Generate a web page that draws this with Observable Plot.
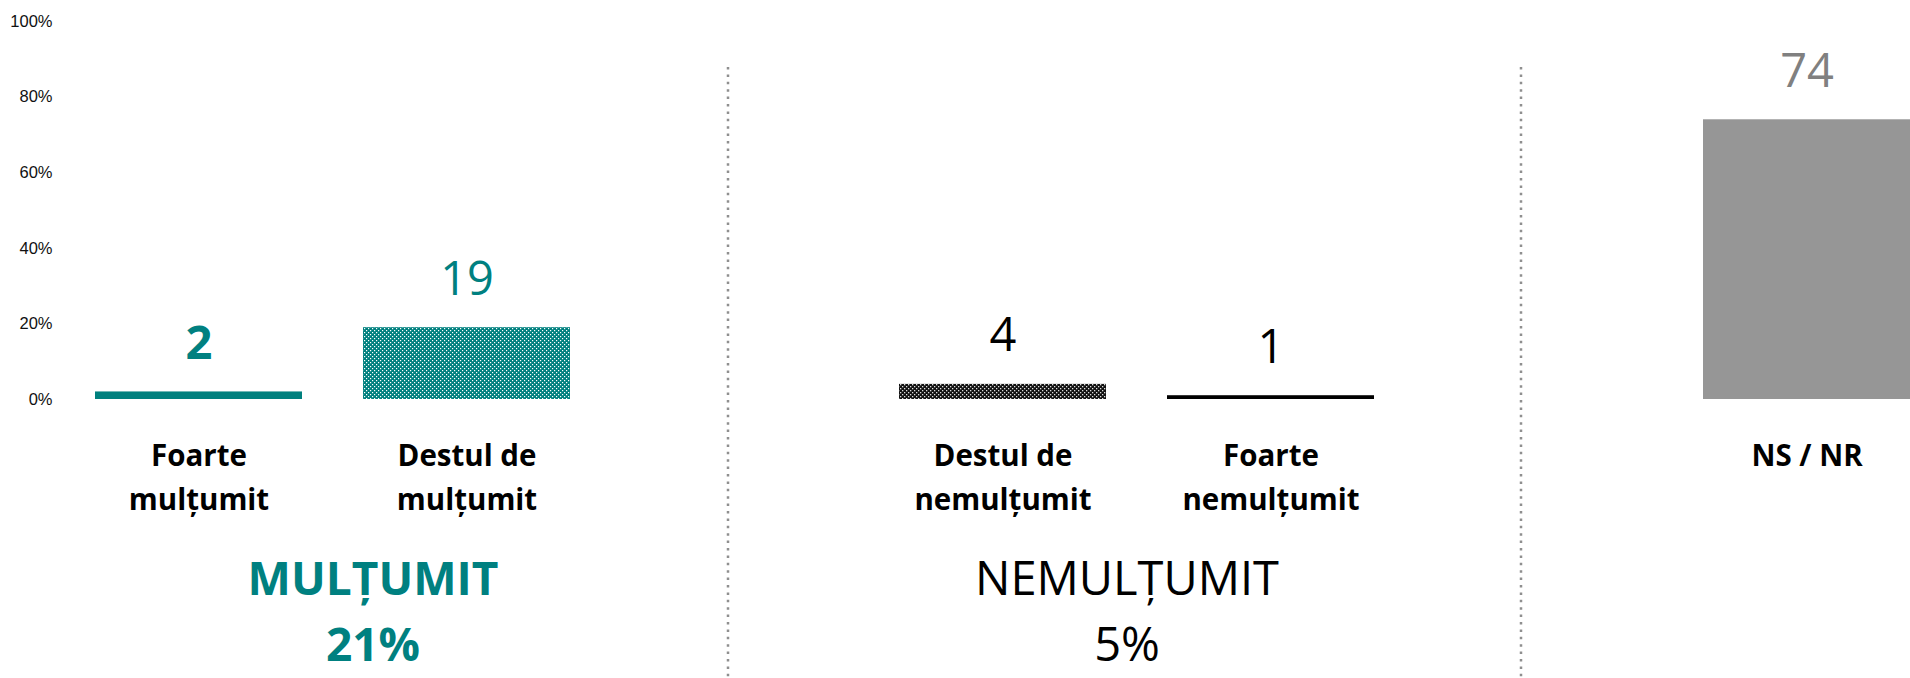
<!DOCTYPE html>
<html>
<head>
<meta charset="utf-8">
<script src="https://cdn.jsdelivr.net/npm/d3@7"></script>
<script src="https://cdn.jsdelivr.net/npm/@observablehq/plot@0.6"></script>
<style>
  html, body { margin: 0; padding: 0; background: #fff; }
  #chart svg { display: block; }
</style>
</head>
<body>
<div id="chart"></div>
<script>
// ---- data ----
const categories = ["Foarte mulțumit", "Destul de mulțumit", "Destul de nemulțumit", "Foarte nemulțumit", "NS / NR"];
const values = [2, 19, 4, 1, 74];
const tickLabels = ["Foarte\nmulțumit", "Destul de\nmulțumit", "Destul de\nnemulțumit", "Foarte\nnemulțumit", "NS / NR"];
const groupOf = ["MULȚUMIT", "MULȚUMIT", "NEMULȚUMIT", "NEMULȚUMIT", "NS / NR"];
const groupNames = ["MULȚUMIT", "NEMULȚUMIT"];
const groupTotals = [21, 5];
const yTicks = [0, 20, 40, 60, 80, 100];

// ---- styles (kept out of data) ----
const TEAL = "#00807e";
const barFill = {
  "Foarte mulțumit": TEAL,
  "Destul de mulțumit": "url(#patTeal)",
  "Destul de nemulțumit": "url(#patDark)",
  "Foarte nemulțumit": "#000000",
  "NS / NR": "#969696"
};
const labelFill = {
  "Foarte mulțumit": "#008080",
  "Destul de mulțumit": "#008080",
  "Destul de nemulțumit": "#000000",
  "Foarte nemulțumit": "#000000",
  "NS / NR": "#808080"
};

const data = categories.map((c, i) => ({cat: c, value: values[i], tick: tickLabels[i], group: groupOf[i]}));

// band domain with spacer slots between groups
const domain = [];
const gaps = [];
data.forEach((d, i) => {
  if (i > 0 && d.group !== data[i - 1].group) {
    const g = "gap" + gaps.length;
    gaps.push(g);
    domain.push(g);
  }
  domain.push(d.cat);
});

const chart = Plot.plot({
  width: 1910,
  height: 678,
  marginTop: 21,
  marginBottom: 279,
  marginLeft: 52,
  marginRight: 0,
  style: {fontFamily: "'Open Sans', sans-serif", background: "#fff", overflow: "hidden"},
  x: {type: "band", domain, range: [64.5, 1940.5], paddingInner: 0.2276, paddingOuter: 0.1138, align: 0.5, axis: null},
  y: {domain: [0, 100], axis: null},
  color: {type: "identity"},
  marks: [
    Plot.axisY({ticks: yTicks, tickSize: 0, tickPadding: 0, tickFormat: d => d + "%",
      fontSize: 16.5, fontFamily: "'Liberation Sans', Arial, sans-serif", fill: "#111", label: null}),
    // group separators
    Plot.ruleX([gaps[0]], {stroke: "#8f8f8f", strokeWidth: 2.5, strokeDasharray: "2.5,4.9", dx: -7, insetTop: 46, insetBottom: -279}),
    Plot.ruleX([gaps[1]], {stroke: "#8f8f8f", strokeWidth: 2.5, strokeDasharray: "2.5,4.9", dx: -18, insetTop: 46, insetBottom: -279}),
    // bars
    Plot.barY(data, {x: "cat", y: "value", fill: d => barFill[d.cat]}),
    // value labels
    Plot.text(data, {filter: d => d.cat === "Foarte mulțumit", x: "cat", y: "value", text: d => String(d.value),
      fill: d => labelFill[d.cat], fontSize: 47, fontWeight: "bold", lineAnchor: "bottom", dy: -33}),
    Plot.text(data, {filter: d => d.cat !== "Foarte mulțumit", x: "cat", y: "value", text: d => String(d.value),
      fill: d => labelFill[d.cat], fontSize: 47, lineAnchor: "bottom", dy: -33}),
    // category labels
    Plot.text(data, {x: "cat", y: () => 0, text: "tick", fill: "#000", fontSize: 29.5, fontWeight: "bold",
      lineAnchor: "top", lineHeight: 1.49, dy: 35.5}),
    // group labels
    Plot.text([0], {x: () => "Destul de mulțumit", y: () => 0, text: () => groupNames[0] + "\n" + groupTotals[0] + "%",
      fill: "#008080", fontSize: 46, fontWeight: "bold", lineAnchor: "top", lineHeight: 1.435, dx: -94, dy: 149}),
    Plot.text([0], {x: () => "Destul de nemulțumit", y: () => 0, text: () => groupNames[1] + "\n" + groupTotals[1] + "%",
      fill: "#000", fontSize: 47, lineAnchor: "top", lineHeight: 1.404, dx: 124, dy: 149})
  ]
});

// patterns for textured bars
const defs = d3.select(chart).insert("defs", ":first-child");
const p1 = defs.append("pattern").attr("id", "patTeal").attr("patternUnits", "userSpaceOnUse").attr("width", 4).attr("height", 4);
p1.append("rect").attr("width", 4).attr("height", 4).attr("fill", TEAL);
p1.append("rect").attr("x", 0).attr("y", 0).attr("width", 1.2).attr("height", 1.2).attr("fill", "#fff");
p1.append("rect").attr("x", 2).attr("y", 2).attr("width", 1.2).attr("height", 1.2).attr("fill", "#fff");
const p2 = defs.append("pattern").attr("id", "patDark").attr("patternUnits", "userSpaceOnUse").attr("width", 4).attr("height", 4);
p2.append("rect").attr("width", 4).attr("height", 4).attr("fill", "#111");
p2.append("rect").attr("x", 0).attr("y", 0).attr("width", 1.3).attr("height", 1.3).attr("fill", "#ddd");
p2.append("rect").attr("x", 2).attr("y", 2).attr("width", 1.3).attr("height", 1.3).attr("fill", "#ddd");

document.getElementById("chart").appendChild(chart);
</script>
</body>
</html>
